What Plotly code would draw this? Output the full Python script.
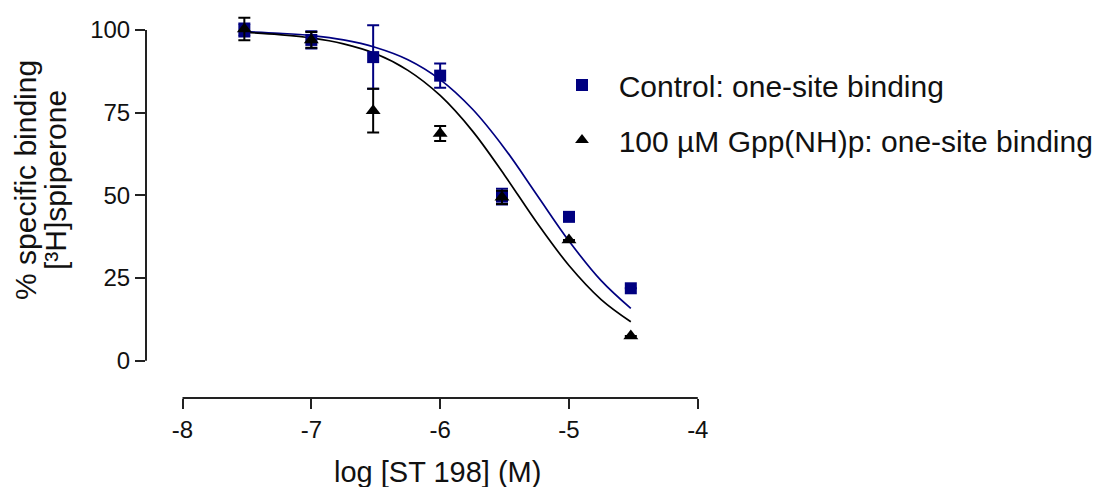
import plotly.graph_objects as go

# ---- data ----
log_conc = [-7.52, -7.0, -6.52, -6.0, -5.52, -5.0, -4.52]
control = [100.0, 97.0, 91.8, 86.2, 49.6, 43.5, 21.9]
control_err = [2.0, 2.6, 9.6, 3.7, 2.4, 0.0, 0.0]
gpp = [100.3, 97.0, 75.6, 68.7, 49.4, 36.5, 7.5]
gpp_err = [3.4, 2.4, 6.6, 2.3, 2.0, 0.0, 0.0]

# fitted one-site curves
curve_x = [-7.52, -7.25, -7.0, -6.75, -6.5, -6.25, -6.0, -5.75, -5.5, -5.25, -5.0, -4.75, -4.52]
control_curve = [99.5, 99.0, 98.3, 97.0, 94.7, 91.0, 85.0, 76.1, 64.2, 50.2, 36.2, 24.2, 15.8]
gpp_curve = [99.3, 98.6, 97.6, 95.8, 92.8, 87.8, 80.2, 69.5, 56.1, 41.8, 28.8, 18.5, 11.8]

x_ticks = [-8, -7, -6, -5, -4]
y_ticks = [0, 25, 50, 75, 100]

series_names = ["Control: one-site binding", "100 µM Gpp(NH)p: one-site binding"]
x_title = "log [ST 198] (M)"
y_title_lines = ["% specific binding", "[³H]spiperone"]

BLUE = "#000080"
BLACK = "#000000"
AX = "#222222"
TXT = "#111111"
FONT = "Arial, 'Liberation Sans', sans-serif"
PAD = "\u00a0\u00a0"

fig = go.Figure()

fig.add_trace(go.Scatter(x=curve_x, y=control_curve, mode="lines",
                         line=dict(color=BLUE, width=1.7, shape="spline"),
                         showlegend=False, hoverinfo="skip"))
fig.add_trace(go.Scatter(x=curve_x, y=gpp_curve, mode="lines",
                         line=dict(color=BLACK, width=1.7, shape="spline"),
                         showlegend=False, hoverinfo="skip"))

fig.add_trace(go.Scatter(x=log_conc, y=control, mode="markers", name=PAD + series_names[0],
                         legendgroup="a",
                         marker=dict(symbol="square", size=12, color=BLUE),
                         error_y=dict(type="data", array=control_err, color=BLUE,
                                      thickness=2, width=6)))
fig.add_trace(go.Scatter(x=log_conc, y=gpp, mode="markers", name=PAD + series_names[1],
                         legendgroup="b",
                         marker=dict(symbol="triangle-up", size=13, color=BLACK),
                         error_y=dict(type="data", array=gpp_err, color=BLACK,
                                      thickness=2, width=6)))

# plot area geometry (px): left 146, right 710, top 10, bottom 398
L, R, T, B = 146, 710, 10, 398
W, H = 1093, 487
px_per_x = (697.8 - 182.5) / 4.0
x_lo = -8 - (182.5 - L) / px_per_x
x_hi = -4 + (R - 697.8) / px_per_x
px_per_y = (360.7 - 30.0) / 100.0
y_lo = -(B - 360.7) / px_per_y
y_hi = 100 + (30.0 - T) / px_per_y


def px_x(p):
    return (p - L) / (R - L)


def px_y(p):
    return (B - p) / (B - T)


fig.update_layout(
    width=W, height=H,
    margin=dict(l=L, r=W - R, t=T, b=H - B, pad=0, autoexpand=False),
    paper_bgcolor="white", plot_bgcolor="white",
    font=dict(family=FONT, size=24, color=TXT),
    showlegend=True,
    legend=dict(x=px_x(562), y=px_y(59), xanchor="left", yanchor="top",
                font=dict(size=30, family=FONT, color=TXT),
                bgcolor="rgba(0,0,0,0)", itemsizing="constant",
                traceorder="grouped", tracegroupgap=13),
    xaxis=dict(range=[x_lo, x_hi], tickvals=x_ticks, ticktext=[str(v) for v in x_ticks],
               showgrid=False, zeroline=False, showline=False,
               ticks="outside", ticklen=10, tickwidth=2, tickcolor=AX,
               tickfont=dict(size=24, family=FONT, color=TXT)),
    yaxis=dict(range=[y_lo, y_hi], tickvals=y_ticks, ticktext=[str(v) for v in y_ticks],
               showgrid=False, zeroline=False, showline=False,
               ticks="outside", ticklen=10, tickwidth=2, tickcolor=AX,
               tickfont=dict(size=24, family=FONT, color=TXT)),
    shapes=[
        dict(type="line", xref="paper", yref="y", x0=0, x1=0, y0=0, y1=100,
             line=dict(color=AX, width=2)),
        dict(type="line", xref="x", yref="paper", x0=-8, x1=-4, y0=0, y1=0,
             line=dict(color=AX, width=2)),
    ],
    annotations=[
        dict(text=x_title, xref="paper", yref="paper",
             x=px_x(437), y=px_y(472), xanchor="center", yanchor="middle",
             showarrow=False, font=dict(size=29, family=FONT, color=TXT)),
        dict(text=y_title_lines[0], xref="paper", yref="paper", textangle=-90,
             x=px_x(25), y=px_y(180), xanchor="center", yanchor="middle",
             showarrow=False, font=dict(size=30, family=FONT, color=TXT)),
        dict(text=y_title_lines[1], xref="paper", yref="paper", textangle=-90,
             x=px_x(55), y=px_y(180), xanchor="center", yanchor="middle",
             showarrow=False, font=dict(size=30, family=FONT, color=TXT)),
    ],
)

fig.write_html("out.html", config={"displayModeBar": False},
               post_script="document.body.style.margin='0px';")
